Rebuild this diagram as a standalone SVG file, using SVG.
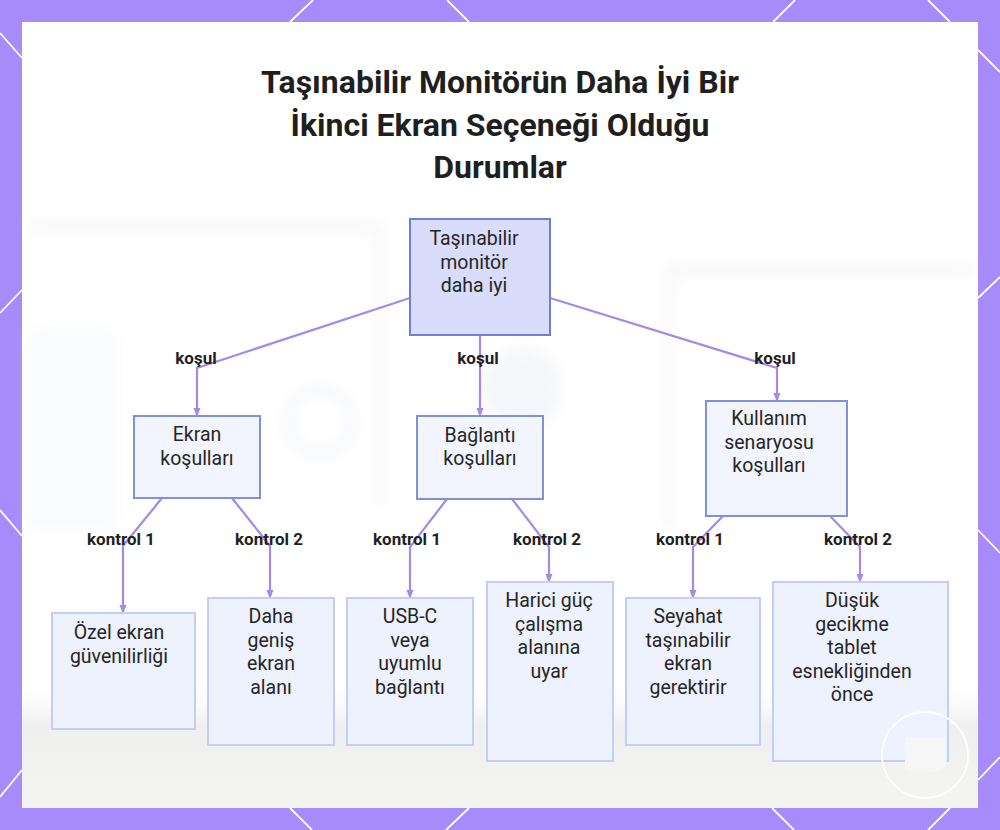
<svg xmlns="http://www.w3.org/2000/svg" width="1000" height="830" viewBox="0 0 1000 830">
  <defs>
    <style>
      .title { font-family: Roboto, "Liberation Sans", sans-serif; font-weight: 700; font-size: 32px; fill: #1f1f1f; text-anchor: middle; }
      .nt { font-family: Roboto, "Liberation Sans", sans-serif; font-size: 19.5px; fill: #262626; text-anchor: middle; }
      .lbl { font-family: Roboto, "Liberation Sans", sans-serif; font-weight: 700; font-size: 17px; fill: #1f1f1f; text-anchor: middle; }
      .root { fill: #d9ddfb; stroke: #6d80d6; stroke-width: 2; }
      .mid { fill: #f2f4fe; stroke: #7e92dc; stroke-width: 2; }
      .leaf { fill: #eef1fe; stroke: #c4cdf5; stroke-width: 2; }
      .conn { fill: none; stroke: #a48ae6; stroke-width: 2.2; }
      .hex { stroke: #ffffff; stroke-width: 1.8; fill: none; }
    </style>
    <marker id="arr" viewBox="0 0 10 10" refX="9" refY="5" markerWidth="4" markerHeight="4" orient="auto">
      <path d="M0,1 L10,5 L0,9 z" fill="#a48ae6"/>
    </marker>
    <filter id="blur" x="-20%" y="-20%" width="140%" height="140%">
      <feGaussianBlur stdDeviation="7"/>
    </filter>
    <linearGradient id="floor" x1="0" y1="0" x2="0" y2="1">
      <stop offset="0" stop-color="#ffffff" stop-opacity="0"/>
      <stop offset="0.35" stop-color="#efefef"/>
      <stop offset="1" stop-color="#f4f4f2"/>
    </linearGradient>
  </defs>

  <!-- purple frame with hexagon pattern lines -->
  <rect x="0" y="0" width="1000" height="830" fill="#a78bfa"/>
  <g id="pattern" class="hex">
    <line x1="313" y1="0" x2="290" y2="22"/>
    <line x1="447" y1="0" x2="469" y2="22"/>
    <line x1="795" y1="0" x2="773" y2="22"/>
    <line x1="928" y1="0" x2="950" y2="22"/>
    <line x1="0" y1="33" x2="22" y2="58"/>
    <line x1="22" y1="290" x2="0" y2="313"/>
    <line x1="0" y1="510" x2="22" y2="536"/>
    <line x1="22" y1="770" x2="0" y2="797"/>
    <line x1="978" y1="50" x2="1000" y2="72"/>
    <line x1="1000" y1="277" x2="978" y2="298"/>
    <line x1="978" y1="530" x2="1000" y2="553"/>
    <line x1="1000" y1="757" x2="978" y2="780"/>
    <line x1="290" y1="808" x2="312" y2="830"/>
    <line x1="469" y1="808" x2="446" y2="830"/>
    <line x1="772" y1="808" x2="794" y2="830"/>
    <line x1="950" y1="808" x2="928" y2="830"/>
  </g>

  <!-- white panel with faint blurred backdrop -->
  <rect x="22" y="22" width="956" height="786" fill="#ffffff"/>
  <g id="backdrop" filter="url(#blur)" opacity="0.35">
    <rect x="30" y="222" width="350" height="10" fill="#e6e6e6"/>
    <rect x="375" y="225" width="10" height="280" fill="#ececec"/>
    <rect x="668" y="264" width="305" height="10" fill="#e6e6e6"/>
    <rect x="664" y="268" width="10" height="260" fill="#ececec"/>
    <circle cx="320" cy="422" r="32" fill="none" stroke="#e4e8f2" stroke-width="10"/>
    <circle cx="522" cy="388" r="40" fill="#e3e6ee"/>
    <rect x="28" y="330" width="90" height="200" fill="#f1f4f9"/>
  </g>
  <rect x="22" y="680" width="956" height="128" fill="url(#floor)"/>

  <!-- title -->
  <g id="title">
    <text class="title" x="500" y="93">Taşınabilir Monitörün Daha İyi Bir</text>
    <text class="title" x="500" y="136">İkinci Ekran Seçeneği Olduğu</text>
    <text class="title" x="500" y="178">Durumlar</text>
  </g>

  <!-- connectors -->
  <g id="connectors">
    <path class="conn" marker-end="url(#arr)" d="M410,298 L197,368 L197,416"/>
    <path class="conn" marker-end="url(#arr)" d="M480,335 L480,416"/>
    <path class="conn" marker-end="url(#arr)" d="M550,298 L777,368 L777,401"/>
    <path class="conn" marker-end="url(#arr)" d="M162,498 L123,546 L123,613"/>
    <path class="conn" marker-end="url(#arr)" d="M232,498 L270,546 L270,598"/>
    <path class="conn" marker-end="url(#arr)" d="M447,499 L410,547 L410,598"/>
    <path class="conn" marker-end="url(#arr)" d="M512,499 L549,547 L549,582"/>
    <path class="conn" marker-end="url(#arr)" d="M723,516 L693,547 L693,598"/>
    <path class="conn" marker-end="url(#arr)" d="M830,516 L860,547 L860,582"/>
    <text class="lbl" x="196" y="364">koşul</text>
    <text class="lbl" x="478" y="364">koşul</text>
    <text class="lbl" x="775" y="364">koşul</text>
    <text class="lbl" x="121" y="545">kontrol 1</text>
    <text class="lbl" x="269" y="545">kontrol 2</text>
    <text class="lbl" x="407" y="545">kontrol 1</text>
    <text class="lbl" x="547" y="545">kontrol 2</text>
    <text class="lbl" x="690" y="545">kontrol 1</text>
    <text class="lbl" x="858" y="545">kontrol 2</text>
  </g>

  <!-- nodes -->
  <g id="node-root">
    <rect class="root" x="410" y="219" width="140" height="116"/>
    <text class="nt" x="474" y="245">Taşınabilir</text>
    <text class="nt" x="474" y="268.5">monitör</text>
    <text class="nt" x="474" y="292">daha iyi</text>
  </g>
  <g id="node-ekran">
    <rect class="mid" x="134" y="416" width="126" height="82"/>
    <text class="nt" x="197" y="441">Ekran</text>
    <text class="nt" x="197" y="465">koşulları</text>
  </g>
  <g id="node-baglanti">
    <rect class="mid" x="417" y="416" width="126" height="83"/>
    <text class="nt" x="480" y="442">Bağlantı</text>
    <text class="nt" x="480" y="465">koşulları</text>
  </g>
  <g id="node-kullanim">
    <rect class="mid" x="706" y="401" width="141" height="115"/>
    <text class="nt" x="769" y="425">Kullanım</text>
    <text class="nt" x="769" y="449">senaryosu</text>
    <text class="nt" x="769" y="472">koşulları</text>
  </g>
  <g id="node-ozel">
    <rect class="leaf" x="52" y="613" width="143" height="116"/>
    <text class="nt" x="119" y="639">Özel ekran</text>
    <text class="nt" x="119" y="663">güvenilirliği</text>
  </g>
  <g id="node-daha">
    <rect class="leaf" x="208" y="598" width="126" height="147"/>
    <text class="nt" x="271" y="623">Daha</text>
    <text class="nt" x="271" y="647">geniş</text>
    <text class="nt" x="271" y="670">ekran</text>
    <text class="nt" x="271" y="694">alanı</text>
  </g>
  <g id="node-usbc">
    <rect class="leaf" x="347" y="598" width="126" height="147"/>
    <text class="nt" x="410" y="623">USB-C</text>
    <text class="nt" x="410" y="647">veya</text>
    <text class="nt" x="410" y="670">uyumlu</text>
    <text class="nt" x="410" y="694">bağlantı</text>
  </g>
  <g id="node-harici">
    <rect class="leaf" x="487" y="582" width="126" height="179"/>
    <text class="nt" x="549" y="607">Harici güç</text>
    <text class="nt" x="549" y="631">çalışma</text>
    <text class="nt" x="549" y="654">alanına</text>
    <text class="nt" x="549" y="678">uyar</text>
  </g>
  <g id="node-seyahat">
    <rect class="leaf" x="626" y="598" width="134" height="147"/>
    <text class="nt" x="688" y="623">Seyahat</text>
    <text class="nt" x="688" y="647">taşınabilir</text>
    <text class="nt" x="688" y="670">ekran</text>
    <text class="nt" x="688" y="694">gerektirir</text>
  </g>
  <g id="node-dusuk">
    <rect class="leaf" x="773" y="582" width="175" height="179"/>
    <text class="nt" x="852" y="607">Düşük</text>
    <text class="nt" x="852" y="631">gecikme</text>
    <text class="nt" x="852" y="654">tablet</text>
    <text class="nt" x="852" y="678">esnekliğinden</text>
    <text class="nt" x="852" y="701">önce</text>
  </g>

  <!-- corner badge -->
  <g id="badge">
    <circle cx="925" cy="755" r="43" fill="none" stroke="#ffffff" stroke-width="1.8" opacity="0.95"/>
    <path d="M905,738 L945,737 L947,765 L940,772 L905,771 Z" fill="#f6f6f6"/>
  </g>
</svg>
